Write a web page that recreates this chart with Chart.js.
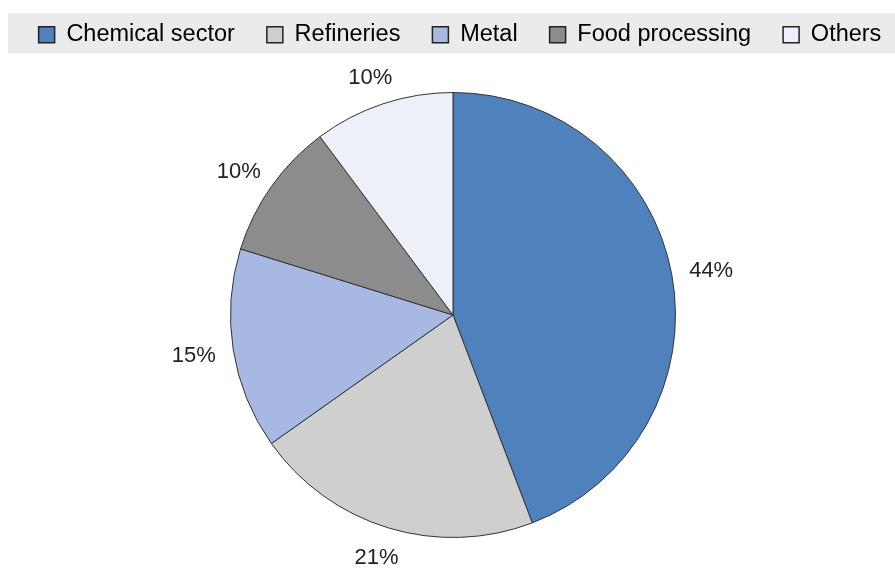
<!DOCTYPE html>
<html lang="en">
<head>
    <meta charset="UTF-8">
    <title>Industrial demand by sector</title>
    <script src="https://cdn.jsdelivr.net/npm/chart.js"></script>
    <style>
        html, body { margin: 0; padding: 0; background: #ffffff; }
        .chart-box { width: 895px; height: 568px; position: relative; }
    </style>
</head>
<body>
    <div class="chart-box">
        <canvas id="pieChart"></canvas>
    </div>

    <script>
        const sectors = ['Chemical sector', 'Refineries', 'Metal', 'Food processing', 'Others'];
        const shares = [44.2, 21.0, 14.6, 10.0, 10.2];
        const sliceColors = ['#4f81bd', '#cfcfcf', '#a7b8e2', '#8c8c8c', '#edf0f8'];

        const fontFamily = '"Liberation Sans", Arial, sans-serif';

        // one legend row, fixed height so the pie keeps its place; then lift the row into the band
        const legendFix = {
            id: 'legendFix',
            beforeInit(chart) {
                const fit = chart.legend.fit;
                chart.legend.fit = function () {
                    const mw = this.maxWidth;
                    this.maxWidth = mw + 200;
                    fit.call(this);
                    this.maxWidth = mw;
                    this.width = mw;
                    this.height = 92;
                };
            },
            afterLayout(chart) {
                const lg = chart.legend;
                lg.top -= 9;
                lg.bottom -= 9;
                lg.left -= 40;
                lg.right += 54;
            }
        };

        // grey band behind the legend
        const legendBand = {
            id: 'legendBand',
            beforeDraw(chart) {
                const ctx = chart.ctx;
                ctx.save();
                ctx.fillStyle = '#ebebeb';
                ctx.fillRect(8, 13, chart.width - 8, 40);
                ctx.restore();
            }
        };

        // percentage labels outside each slice
        const outsideLabels = {
            id: 'outsideLabels',
            afterDatasetsDraw(chart) {
                const ctx = chart.ctx;
                const meta = chart.getDatasetMeta(0);
                ctx.save();
                ctx.font = '22px ' + fontFamily;
                ctx.fillStyle = '#222222';
                ctx.textAlign = 'center';
                ctx.textBaseline = 'middle';
                meta.data.forEach((arc, i) => {
                    const mid = (arc.startAngle + arc.endAngle) / 2;
                    const txt = Math.round(shares[i]) + '%';
                    const w = ctx.measureText(txt).width;
                    const r = arc.outerRadius + 18;
                    const x = arc.x + Math.cos(mid) * r + Math.cos(mid) * w / 2;
                    const y = arc.y + Math.sin(mid) * r + Math.sin(mid) * 11 + 2;
                    ctx.fillText(txt, x, y);
                });
                ctx.restore();
            }
        };

        new Chart(document.getElementById('pieChart'), {
            type: 'pie',
            data: {
                labels: sectors,
                datasets: [{
                    data: shares,
                    backgroundColor: sliceColors,
                    borderColor: '#333333',
                    borderWidth: 1
                }]
            },
            options: {
                responsive: true,
                maintainAspectRatio: false,
                animation: false,
                layout: {
                    padding: { top: 0, bottom: 30, left: 11, right: 0 }
                },
                plugins: {
                    legend: {
                        position: 'top',
                        labels: {
                            boxWidth: 16,
                            boxHeight: 16,
                            padding: 32,
                            color: '#111111',
                            font: { size: 23.5, family: fontFamily },
                            generateLabels(chart) {
                                return sectors.map((s, i) => ({
                                    text: s,
                                    fillStyle: sliceColors[i],
                                    strokeStyle: '#222222',
                                    lineWidth: 1.5,
                                    hidden: false,
                                    index: i
                                }));
                            }
                        }
                    },
                    tooltip: { enabled: false }
                }
            },
            plugins: [legendFix, legendBand, outsideLabels]
        });
    </script>
</body>
</html>
